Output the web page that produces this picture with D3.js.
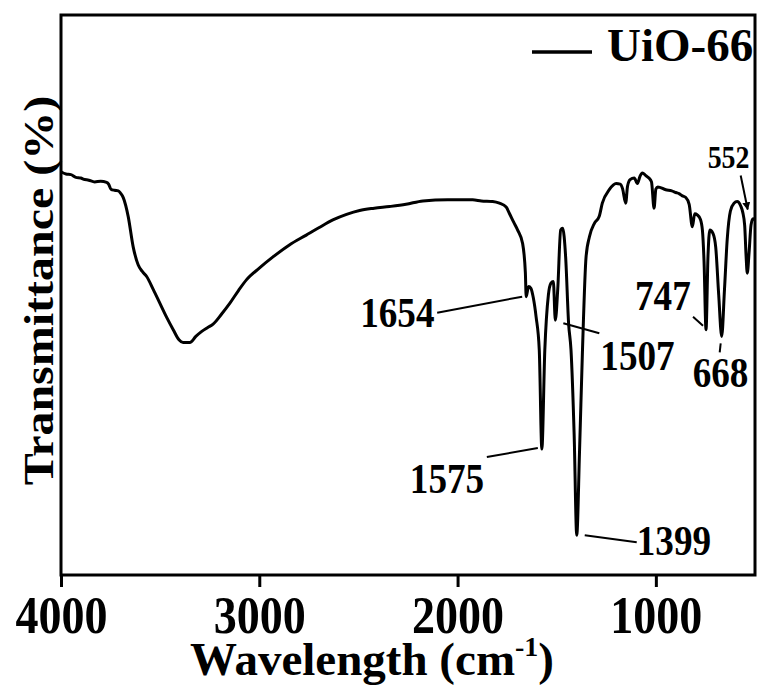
<!DOCTYPE html>
<html>
<head>
<meta charset="utf-8">
<script src="https://cdn.jsdelivr.net/npm/d3@7"></script>
<style>
  html, body { margin: 0; padding: 0; background: #fff; }
  svg { display: block; font-family: 'Liberation Serif', 'Times New Roman', serif; font-weight: bold; }
</style>
</head>
<body>
<div id="graf"></div>
<script>
// FTIR de UiO-66 (numero de onda en cm-1, transmitancia en %)
const waveNumbers = [
  4000, 3975, 3950, 3925, 3900, 3888, 3860, 3830, 3800, 3770, 3760, 3748, 3730, 3711, 3700,
  3686, 3661, 3636, 3611, 3590, 3568, 3535, 3501, 3467, 3434, 3405, 3384, 3350, 3320, 3290,
  3260, 3233, 3190, 3149, 3105, 3065, 3000, 2931, 2850, 2763, 2700, 2629, 2560, 2494, 2420,
  2343, 2260, 2175, 2050, 1924, 1880, 1823, 1789, 1755, 1739, 1717, 1697, 1672, 1658, 1654,
  1642, 1630, 1618, 1604, 1588, 1575, 1560, 1542, 1529, 1517, 1507, 1495, 1480, 1470, 1455,
  1440, 1428, 1412, 1399, 1385, 1370, 1352, 1335, 1310, 1286, 1270, 1235, 1200, 1180, 1168,
  1152, 1143, 1130, 1109, 1093, 1080, 1068, 1050, 1035, 1022, 1009, 1000, 990, 950, 920,
  899, 883, 866, 849, 832, 816, 804, 791, 775, 765, 757, 747, 737, 728, 712,
  698, 683, 668, 654, 640, 624, 606, 590, 572, 562, 552, 545, 539, 530, 520,
  510, 500,
]
const transmittance = [
  72.0, 71.6, 71.5, 71.0, 70.9, 70.7, 70.5, 70.2, 70.3, 70.1, 69.8, 68.9, 68.7, 68.6, 68.2,
  67.4, 64.0, 58.6, 55.4, 54.2, 53.3, 51.0, 48.5, 46.0, 43.8, 42.0, 41.5, 41.5, 42.6, 43.5,
  44.2, 44.8, 46.6, 48.5, 50.8, 52.7, 54.8, 56.8, 58.9, 60.7, 62.0, 63.4, 64.4, 65.1, 65.5,
  65.8, 66.2, 66.8, 67.0, 67.0, 66.8, 66.7, 66.4, 65.7, 64.6, 63.0, 61.6, 59.2, 53.9, 49.7,
  51.5, 51.2, 49.5, 46.1, 40.2, 22.5, 40.2, 50.0, 52.1, 52.4, 45.5, 50.9, 61.6, 61.9, 56.8,
  44.9, 40.2, 25.0, 7.1, 22.0, 40.2, 56.8, 60.4, 62.8, 64.0, 66.4, 68.8, 69.9, 69.8, 69.0,
  66.4, 69.4, 70.6, 70.9, 69.9, 71.2, 71.8, 71.3, 70.9, 70.2, 65.5, 68.9, 69.3, 68.8, 68.6,
  68.3, 68.1, 67.7, 67.4, 66.2, 62.2, 64.5, 64.3, 63.5, 61.5, 56.0, 43.8, 57.0, 61.6, 61.0,
  58.5, 50.0, 42.6, 50.9, 60.0, 65.0, 66.4, 66.7, 65.9, 64.8, 62.4, 57.0, 53.9, 57.5, 62.5,
  63.6, 63.4,
]
const xTicks = [4000, 3000, 2000, 1000]
const peaks = [1654, 1575, 1507, 1399, 747, 668, 552]
const seriesName = 'UiO-66'

const anchoTotal = 758
const altoTotal = 687
const margin = { top: 15, right: 3, bottom: 112, left: 61 }
const ancho = anchoTotal - margin.left - margin.right
const alto = altoTotal - margin.top - margin.bottom
const squeeze = 0.885 // las letras del original estan algo comprimidas

// posicion de cada etiqueta de pico, relativa al punto del pico
const notas = {
  1654: { lx: -166, ly: 30, from: [-89, 16], to: [-4, 0] },
  1507: { lx: 45, ly: 50, from: [8, 3], to: [44, 13] },
  1575: { lx: -132, ly: 44, from: [-4, -1], to: [-55, 8] },
  1399: { lx: 60, ly: 20, from: [8, 0], to: [60, 7] },
  747: { lx: -71, ly: -20, from: [-3, -4], to: [-13, -13] },
  668: { lx: -29, ly: 51, from: [-1, 7], to: [-2, 16] },
  552: { lx: -37, ly: -58, from: [-4, -50], to: [3, -16], arrow: true, size: 31.5 },
}

const data = waveNumbers.map((w, i) => ({ w, t: transmittance[i] }))

const svg = d3
  .select('#graf')
  .append('svg')
  .attr('width', anchoTotal)
  .attr('height', altoTotal)

svg
  .append('defs')
  .append('marker')
  .attr('id', 'flecha')
  .attr('viewBox', '0 0 10 10')
  .attr('refX', 9)
  .attr('refY', 5)
  .attr('markerWidth', 4)
  .attr('markerHeight', 4)
  .attr('markerUnits', 'strokeWidth')
  .attr('orient', 'auto')
  .append('path')
  .attr('d', 'M0,0 L10,5 L0,10 Z')
  .attr('fill', '#000')

const x = d3.scaleLinear().domain([4000, 500]).range([margin.left, margin.left + ancho])
const y = d3.scaleLinear().domain([0, 100]).range([margin.top + alto, margin.top])

// eje x
const xAxis = svg
  .append('g')
  .attr('transform', `translate(0, ${margin.top + alto})`)
  .call(d3.axisBottom(x).tickValues(xTicks).tickSize(12).tickFormat(d3.format('d')))
xAxis.select('.domain').remove()
xAxis.selectAll('.tick line').attr('stroke', '#000').attr('stroke-width', 3)
xAxis
  .selectAll('.tick text')
  .attr('y', 58)
  .attr('dy', 0)
  .attr('fill', '#000')
  .style('font-family', 'Liberation Serif, serif')
  .style('font-weight', 'bold')
  .style('font-size', '52px')
  .attr('transform', `scale(${squeeze},1)`)

// curva
const generadorLinea = d3
  .line()
  .x((d) => x(d.w))
  .y((d) => y(d.t))
  .curve(d3.curveMonotoneX)

svg
  .append('path')
  .datum(data)
  .attr('d', generadorLinea)
  .attr('fill', 'none')
  .attr('stroke', '#000')
  .attr('stroke-width', 3)
  .attr('stroke-linejoin', 'round')

// marco
svg
  .append('rect')
  .attr('x', margin.left)
  .attr('y', margin.top)
  .attr('width', ancho)
  .attr('height', alto)
  .attr('fill', 'none')
  .attr('stroke', '#000')
  .attr('stroke-width', 3)

// etiquetas de picos
const notasG = svg.append('g')
peaks.forEach((p) => {
  const n = notas[p]
  const d = data.find((e) => e.w === p)
  const px = x(d.w)
  const py = y(d.t)
  notasG
    .append('line')
    .attr('x1', px + n.from[0])
    .attr('y1', py + n.from[1])
    .attr('x2', px + n.to[0])
    .attr('y2', py + n.to[1])
    .attr('stroke', '#000')
    .attr('stroke-width', n.arrow ? 2 : 2)
    .attr('marker-end', n.arrow ? 'url(#flecha)' : null)
  notasG
    .append('text')
    .attr('transform', `translate(${px + n.lx}, ${py + n.ly}) scale(${squeeze},1)`)
    .style('font-size', `${n.size || 42}px`)
    .text(p)
})

// leyenda
svg
  .append('line')
  .attr('x1', 532)
  .attr('x2', 592)
  .attr('y1', 52)
  .attr('y2', 52)
  .attr('stroke', '#000')
  .attr('stroke-width', 3.5)
svg
  .append('text')
  .attr('x', 607)
  .attr('y', 61)
  .style('font-size', '47px')
  .text(seriesName)

// titulos
svg
  .append('text')
  .attr('transform', `translate(53, 290.5) scale(0.88,1) rotate(-90)`)
  .attr('text-anchor', 'middle')
  .style('font-size', '48px')
  .text('Transmittance (%)')

const xTitle = svg
  .append('text')
  .attr('x', 190)
  .attr('y', 675)
  .style('font-size', '47px')
xTitle.append('tspan').text('Wavelength (cm')
xTitle.append('tspan').attr('dy', -19).style('font-size', '28px').text('-1')
xTitle.append('tspan').attr('dy', 19).text(')')
</script>
</body>
</html>
